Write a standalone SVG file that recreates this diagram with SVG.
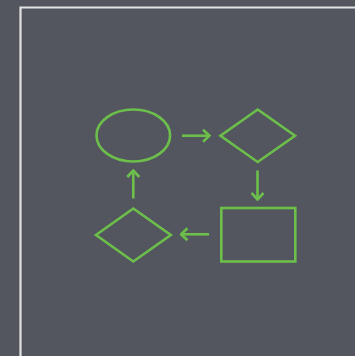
<svg xmlns="http://www.w3.org/2000/svg" width="355" height="356" viewBox="0 0 355 356">
<style>
.s{fill:none;stroke:#6cbf4a;stroke-width:2.6;stroke-linejoin:miter}
.c{fill:none;stroke:#6cbf4a;stroke-width:2.6}
</style>
<defs>
<marker id="ah" viewBox="0 0 10 14" refX="8.5" refY="7" markerWidth="10" markerHeight="14" markerUnits="userSpaceOnUse" orient="auto">
<path d="M2,1 L8.5,7 L2,13" fill="none" stroke="#6cbf4a" stroke-width="2.6"/>
</marker>
</defs>
<rect width="355" height="356" fill="#53565e"/>
<path d="M20.5,356 V7.5 H355" fill="none" stroke="#e2e2e2" stroke-width="2.2"/>
<g id="start"><ellipse class="s" cx="133.3" cy="135.5" rx="36.8" ry="26"/></g>
<g id="decision1"><polygon class="s" points="257.7,109.5 295,135.8 257.7,162 220.5,135.8"/></g>
<g id="process"><rect class="s" x="221.3" y="208" width="74" height="53.5"/></g>
<g id="decision2"><polygon class="s" points="133.3,208.5 170.8,235 133.3,261.5 96,235"/></g>
<g id="connectors" class="c">
<line x1="182" y1="135.7" x2="209.5" y2="135.7" marker-end="url(#ah)"/>
<line x1="257.5" y1="170.5" x2="257.5" y2="199.5" marker-end="url(#ah)"/>
<line x1="209" y1="234.3" x2="181" y2="234.3" marker-end="url(#ah)"/>
<line x1="133.3" y1="198.5" x2="133.3" y2="170.5" marker-end="url(#ah)"/>
</g>
</svg>
